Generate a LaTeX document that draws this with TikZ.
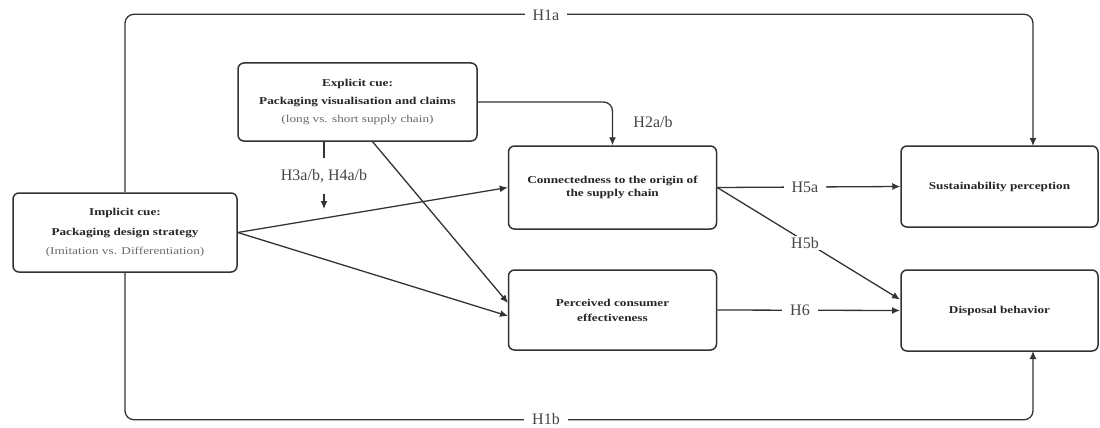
\documentclass[tikz,border=0pt]{standalone}
\usepackage{fontspec}
\setmainfont{Liberation Serif}
\newfontfamily\boxfont[FakeStretch=1.26]{Liberation Serif}
\usetikzlibrary{arrows.meta}

\definecolor{ink}{HTML}{262626}
\definecolor{soft}{HTML}{6A6A6A}
\definecolor{edge}{HTML}{333333}
\definecolor{hypc}{HTML}{454545}

\begin{document}
\begin{tikzpicture}[x=1pt,y=-1pt,
  box/.style={draw=edge, line width=1.5pt, rounded corners=6pt, fill=white,
    inner sep=0pt, align=center, text=ink},
  plain/.style={draw=edge, line width=1.3pt},
  link/.style={plain, -{Latex[length=8pt,width=7pt]}},
  hyp/.style={fill=white, inner xsep=8pt, inner ysep=1pt, text=hypc,
    font=\fontsize{16}{18}\selectfont},
  sub/.style={text=soft}
]
\useasboundingbox (0,0) rectangle (1100,428);

% constructs
\node[box, minimum width=224pt, minimum height=79pt,
      font=\boxfont\fontsize{10.5}{19.5}\selectfont] (impl) at (125,232.5)
  {{\bfseries Implicit cue:}\\{\bfseries Packaging design strategy}\\{\color{soft}(Imitation vs. Differentiation)}};
\node[box, minimum width=239pt, minimum height=78pt,
      font=\boxfont\fontsize{10.5}{18}\selectfont] (expl) at (357.5,102)
  {{\bfseries Explicit cue:}\\{\bfseries Packaging visualisation and claims}\\{\color{soft}(long vs. short supply chain)}};
\node[box, minimum width=208pt, minimum height=83pt,
      font=\boxfont\bfseries\fontsize{10.5}{13.5}\selectfont] (conn) at (612.5,187.5)
  {Connectedness to the origin of\\the supply chain};
\node[box, minimum width=208pt, minimum height=80pt,
      font=\boxfont\bfseries\fontsize{10.5}{15}\selectfont] (perc) at (612.5,310)
  {Perceived consumer\\effectiveness};
\node[box, minimum width=197pt, minimum height=81pt,
      font=\boxfont\bfseries\fontsize{10.5}{13}\selectfont] (sust) at (999.5,186.5)
  {Sustainability perception};
\node[box, minimum width=197pt, minimum height=81pt,
      font=\boxfont\bfseries\fontsize{10.5}{13}\selectfont] (disp) at (999.5,310.5)
  {Disposal behavior};

% connector end points on box edges
\coordinate (sTop) at (1033,146);
\coordinate (dBot) at (1033,351);
\coordinate (eBot) at (372,141);
\coordinate (mTop) at (324,141);
\coordinate (mTip) at (324,209);
\coordinate (pIn1) at (508,303);
\coordinate (pIn2) at (508,316);
\coordinate (dIn1) at (900,299.5);
\coordinate (dIn2) at (900,310.5);

% direct effects around the model
\draw[link, rounded corners=9pt] (impl.north) -- ++(0,-178) -| (sTop);
\draw[link, rounded corners=9pt] (impl.south) -- ++(0,147) -| (dBot);
\node[hyp] (h1a) at (546,15) {H1a};
\node[hyp] (h1b) at (546,419) {H1b};

% explicit cue on connectedness
\draw[link, rounded corners=9pt] (expl.east) -| (conn.north);
\node[text=hypc, font=\fontsize{16}{18}\selectfont] (h2) at (653,122) {H2a/b};

% moderation
\node[text=hypc, font=\fontsize{16}{18}\selectfont, minimum height=35pt, inner sep=0pt] (h34) at (324,176) {H3a/b, H4a/b};
\draw[plain] (mTop) -- (h34.north);
\draw[link] (h34.south) -- (mTip);

% paths from the cues
\draw[link] (impl.east) -- (conn.west);
\draw[link] (impl.east) -- (pIn2);
\draw[link] (eBot) -- (pIn1);

% paths to the outcomes
\draw[link] (conn.east) -- (sust.west);
\node[hyp] (h5a) at (805,187) {H5a};
\draw[link] (conn.east) -- (dIn1);
\node[hyp] (h5b) at (805,243) {H5b};
\draw[link] (perc.east) -- (dIn2);
\node[hyp] (h6) at (800,310.5) {H6};
\end{tikzpicture}
\end{document}
